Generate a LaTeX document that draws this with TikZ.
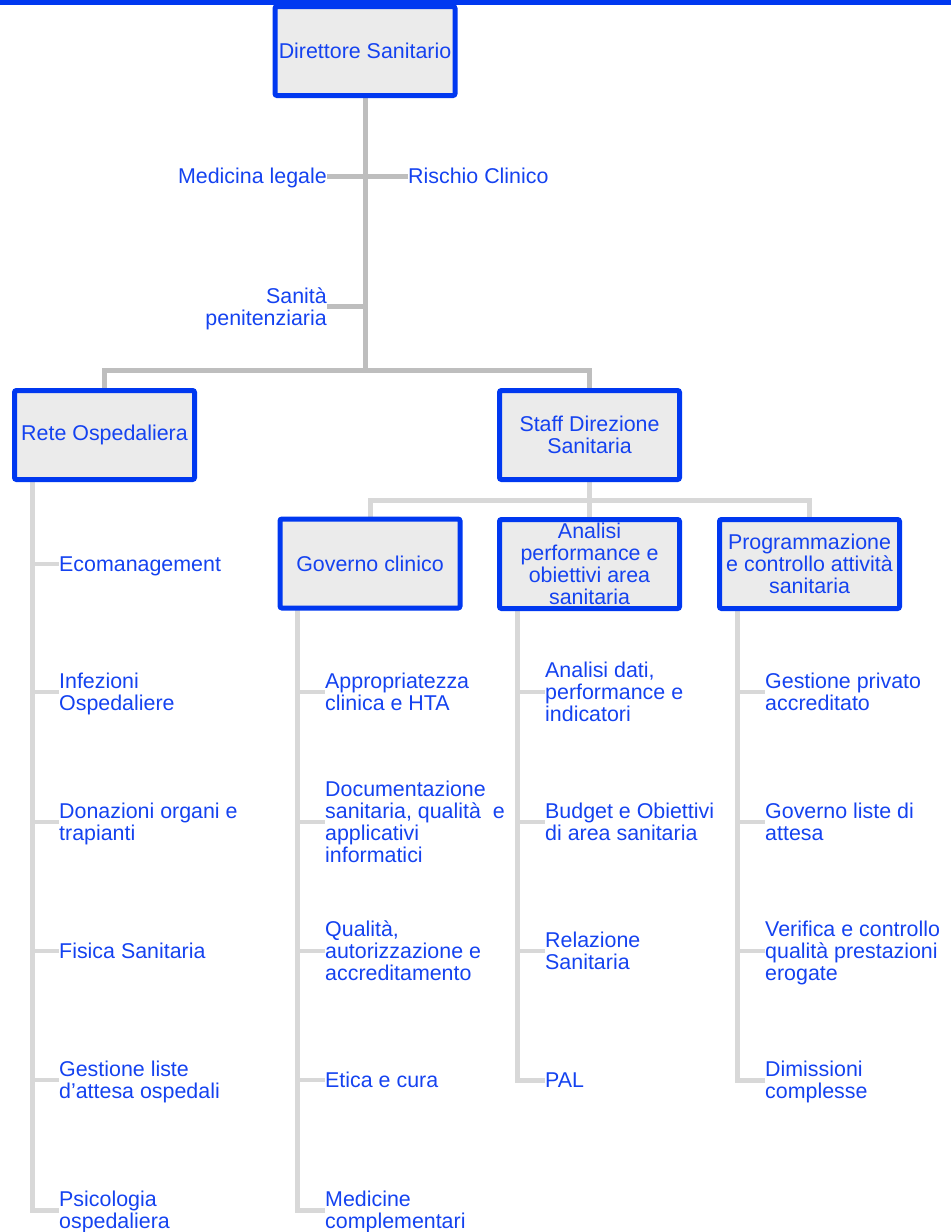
\documentclass[tikz,border=0pt]{standalone}
\usepackage{fontspec}
\setmainfont{Liberation Sans}
\usetikzlibrary{backgrounds}
\definecolor{ink}{RGB}{20,66,240}
\definecolor{frameblue}{RGB}{0,56,240}
\definecolor{boxfill}{RGB}{235,235,235}
\definecolor{linkdark}{RGB}{190,190,190}
\definecolor{linklight}{RGB}{216,216,216}
\begin{document}
\begin{tikzpicture}[x=1pt,y=-1pt,
  every node/.style={text=ink, inner sep=0pt, font={\fontsize{21.4}{22}\selectfont}},
  unitbox/.style={draw=frameblue, line width=5pt, fill=boxfill, rounded corners=2pt,
    minimum width=180pt, minimum height=89pt, align=center},
  % strutted labels: the text's optical middle sits 3.3pt above the node centre
  tag/.style={execute at begin node=\strut, execute at end node=\strut},
  item/.style={tag, anchor=west, align=left},
  mainlink/.style={draw=linkdark, line width=5pt},
  sublink/.style={draw=linklight, line width=5pt},
  stub/.style={draw=linklight, line width=4.5pt}]
\useasboundingbox (0,0) rectangle (951,1232);

% organisational units
\node[unitbox] (dir)  at (365,51)    {Direttore Sanitario};
\node[unitbox] (rete) at (104.5,435) {Rete Ospedaliera};
\node[unitbox] (staff) at (589.5,435) {Staff Direzione\\Sanitaria};
\node[unitbox] (gov)  at (370,563.5) {Governo clinico};
\node[unitbox] (ana)  at (589.5,564) {Analisi\\performance e\\obiettivi area\\sanitaria};
\node[unitbox] (prog) at (809.5,564) {Programmazione\\e controllo attività\\sanitaria};

% staff functions on the trunk
\node[tag, anchor=east] (med) at (327,179.3) {Medicina legale};
\node[tag, anchor=west] (risk) at (408,179.3) {Rischio Clinico};
\node[tag, anchor=east, align=right] (pen) at (327,309.8) {Sanità\\penitenziaria};

% Rete Ospedaliera
\node[item] (r1) at (59,567.3)  {Ecomanagement};
\node[item] (r2) at (59,695.3)  {Infezioni\\Ospedaliere};
\node[item] (r3) at (59,825.3)  {Donazioni organi e\\trapianti};
\node[item] (r4) at (59,954.3)  {Fisica Sanitaria};
\node[item] (r5) at (59,1083.3) {Gestione liste\\d’attesa ospedali};
\node[item] (r6) at (59,1213.3) {Psicologia\\ospedaliera};

% Governo clinico
\node[item] (g1) at (325,695.3)  {Appropriatezza\\clinica e HTA};
\node[item] (g2) at (325,825.3)  {Documentazione\\sanitaria, qualità\ \ e\\applicativi\\informatici};
\node[item] (g3) at (325,954.3)  {Qualità,\\autorizzazione e\\accreditamento};
\node[item] (g4) at (325,1083.3) {Etica e cura};
\node[item] (g5) at (325,1213.3) {Medicine\\complementari};

% Analisi performance
\node[item] (a1) at (545,695.3)  {Analisi dati,\\performance e\\indicatori};
\node[item] (a2) at (545,825.3)  {Budget e Obiettivi\\di area sanitaria};
\node[item] (a3) at (545,954.3)  {Relazione\\Sanitaria};
\node[item] (a4) at (545,1083.3) {PAL};

% Programmazione e controllo
\node[item] (p1) at (765,695.3)  {Gestione privato\\accreditato};
\node[item] (p2) at (765,825.3)  {Governo liste di\\attesa};
\node[item] (p3) at (765,954.3)  {Verifica e controllo\\qualità prestazioni\\erogate};
\node[item] (p4) at (765,1083.3) {Dimissioni\\complesse};

\coordinate (tb) at (365,370);
\coordinate (sb) at (589.5,500);
\coordinate (rs) at (32,482);
\coordinate (gs) at (297,610);
\coordinate (as) at (517,610);
\coordinate (ps) at (737,610);

\tikzset{lift/.style={yshift=3.3pt}}
\begin{scope}[on background layer]
  % trunk and first level
  \draw[mainlink] (dir.south) -- (tb);
  \draw[mainlink] (rete.north) |- (tb) -| (staff.north);
  \draw[mainlink] ([lift]med.east) -- ([lift]med.east -| tb);
  \draw[mainlink] ([lift]risk.west) -- ([lift]risk.west -| tb);
  \draw[mainlink] ([lift]pen.east) -- ([lift]pen.east -| tb);
  % staff sub-units
  \draw[sublink] (gov.north) |- (sb) -| (prog.north);
  \draw[sublink] (staff.south) -- (ana.north);
  % spines
  \draw[sublink] (rs) |- ([lift]r6.west);
  \draw[sublink] (gs) |- ([lift]g5.west);
  \draw[sublink] (as) |- ([lift]a4.west);
  \draw[sublink] (ps) |- ([lift]p4.west);
  \foreach \n in {r1,r2,r3,r4,r5} \draw[stub] ([lift]rs |- \n.west) -- ([lift]\n.west);
  \foreach \n in {g1,g2,g3,g4} \draw[stub] ([lift]gs |- \n.west) -- ([lift]\n.west);
  \foreach \n in {a1,a2,a3} \draw[stub] ([lift]as |- \n.west) -- ([lift]\n.west);
  \foreach \n in {p1,p2,p3} \draw[stub] ([lift]ps |- \n.west) -- ([lift]\n.west);
\end{scope}

% header rule
\fill[frameblue] (0,0) rectangle (951,4.5);
\end{tikzpicture}
\end{document}
